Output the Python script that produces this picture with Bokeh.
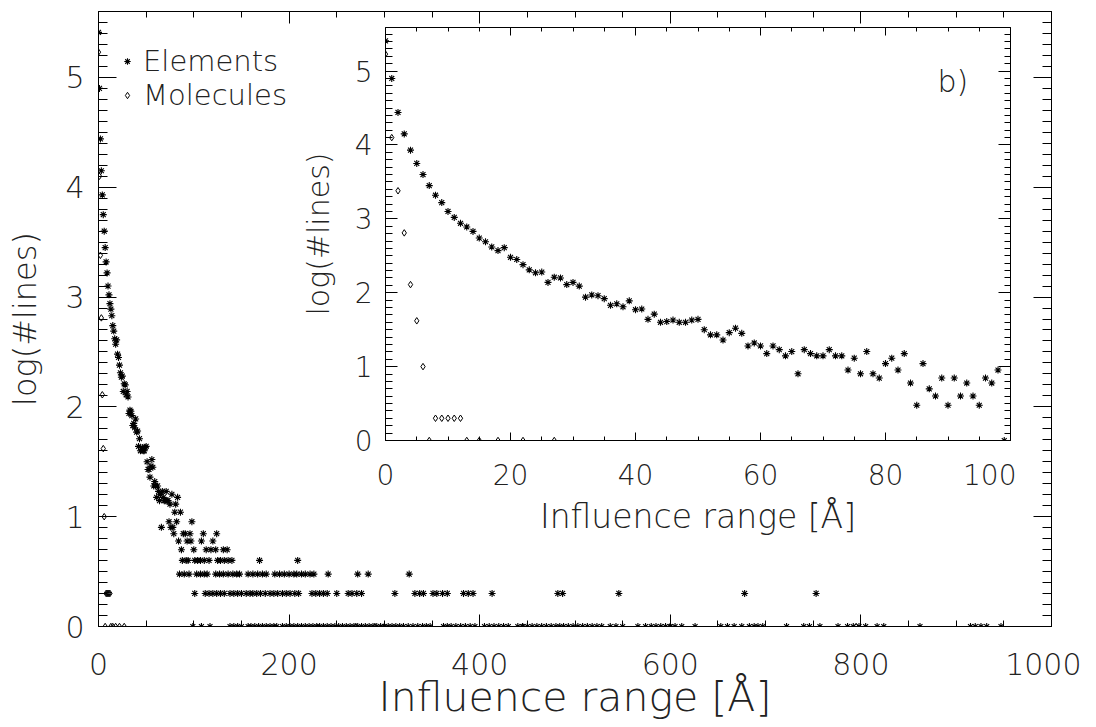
import numpy as np
from bokeh.plotting import figure
from bokeh.models import (Range1d, LinearAxis, SingleIntervalTicker, Legend, LegendItem,
                          Label, CustomJSTickFormatter)
from bokeh.layouts import column
from bokeh.embed import file_html
from bokeh.resources import INLINE

FONT = "DejaVu Sans Light, Lato Light, DejaVu Sans"
TXT = "#222222"

# ---------------- data ----------------
# Elements: log(#lines) per 1 A bin, 0..99 A
el_x_near = list(range(100))
el_y_near = [5.41, 4.90, 4.44, 4.15, 3.93, 3.75, 3.60, 3.45, 3.32, 3.22,
             3.10, 3.02, 2.94, 2.89, 2.83, 2.74, 2.69, 2.62, 2.57, 2.61,
             2.48, 2.45, 2.38, 2.31, 2.27, 2.28, 2.14, 2.21, 2.20, 2.11,
             2.14, 2.09, 1.94, 1.97, 1.96, 1.92, 1.83, 1.85, 1.81, 1.89,
             1.77, 1.78, 1.64, 1.71, 1.60, 1.61, 1.63, 1.60, 1.60, 1.63,
             1.64, 1.50, 1.43, 1.43, 1.36, 1.46, 1.52, 1.45, 1.28, 1.32,
             1.28, 1.176, 1.28, 1.230, 1.146, 1.204, 0.903, 1.230, 1.176, 1.146,
             1.146, 1.230, 1.146, 1.146, 0.954, 1.114, 0.903, 1.204, 0.903, 0.845,
             1.041, 1.114, 0.954, 1.176, 0.778, 0.477, 1.041, 0.699, 0.602, 0.845,
             0.477, 0.845, 0.602, 0.778, 0.602, 0.477, 0.845, 0.778, 0.954, 0.0]

# Elements beyond 100 A, grouped by log(#lines) level
far_levels = [0.845, 0.778, 0.699, 0.602, 0.477, 0.301, 0.0]
far_x = [
    [110, 124],
    [108, 120],
    [100, 113, 118, 123, 131, 135],
    [101, 104, 107, 111, 116, 125, 128, 132, 136, 140, 169, 209],
    [103, 107, 111, 114, 123, 127, 131, 136, 141, 145, 148, 157, 162, 167, 172,
     176, 185, 190, 195, 200, 205, 208, 213, 217, 222, 226, 241, 272, 283, 326],
    [101, 112, 116, 120, 124, 128, 132, 138, 142, 146, 150, 155, 159, 162, 166,
     170, 175, 180, 184, 188, 193, 197, 201, 206, 210, 224, 228, 232, 236, 240,
     250, 262, 266, 271, 276, 311, 332, 337, 341, 351, 355, 361, 366, 383, 388,
     393, 413, 482, 487, 546, 678, 753],
    [108, 117, 138, 142, 146, 150, 157, 160, 164, 168, 172, 176, 180, 184, 187,
     193, 197, 201, 205, 209, 213, 217, 221, 225, 229, 232, 236, 240, 244, 248,
     252, 256, 260, 264, 268, 272, 276, 280, 284, 288, 292, 296, 300, 304, 308,
     312, 316, 320, 325, 330, 335, 340, 344, 348, 362, 366, 370, 375, 380, 385,
     390, 395, 405, 410, 415, 420, 425, 430, 440, 445, 450, 455, 460, 465, 470,
     475, 480, 484, 488, 493, 498, 503, 508, 513, 518, 523, 528, 537, 543, 550,
     566, 574, 580, 585, 590, 595, 600, 605, 612, 626, 653, 660, 667, 675, 683,
     688, 692, 697, 722, 740, 746, 757, 776, 786, 792, 798, 805, 817, 824, 862,
     915, 920, 926, 932, 947],
]

# Molecules
mol_x = [0, 1, 2, 3, 4, 5, 6, 7, 8, 9, 10, 11, 12, 13, 15, 18, 22, 27]
mol_y = [5.23, 4.10, 3.38, 2.81, 2.11, 1.62, 1.00, 0.0, 0.301, 0.301, 0.301,
         0.301, 0.301, 0.0, 0.0, 0.0, 0.0, 0.0]
mol_far_x = [270, 290, 300, 445, 600, 795]
mol_far_y = [0.0, 0.0, 0.0, 0.0, 0.0, 0.0]

legend_labels = ["Elements", "Molecules"]

# full element set for main panel
el_x_all = list(el_x_near)
el_y_all = list(el_y_near)
for lvl, xs in zip(far_levels, far_x):
    el_x_all += xs
    el_y_all += [lvl] * len(xs)
mol_x_all = mol_x + mol_far_x
mol_y_all = mol_y + mol_far_y

BLANK = CustomJSTickFormatter(code="return ''")


def style_axis(ax, major_in, minor_in, size=None, standoff=10):
    ax.axis_line_color = "black"
    ax.axis_line_width = 1
    ax.major_tick_in = major_in
    ax.major_tick_out = 0
    ax.minor_tick_in = minor_in
    ax.minor_tick_out = 0
    ax.major_tick_line_color = "black"
    ax.minor_tick_line_color = "black"
    ax.major_label_text_font = FONT
    ax.major_label_text_color = TXT
    ax.axis_label_text_font = FONT
    ax.axis_label_text_font_style = "normal"
    ax.axis_label_text_color = TXT
    if size is not None:
        ax.major_label_text_font_size = size
        ax.major_label_standoff = standoff
    else:
        ax.formatter = BLANK
        ax.major_label_text_font_size = "1px"
        ax.major_label_standoff = 0
        ax.axis_label = None


def add_frame_axes(fig, xt, yt, xmaj, xmin, ymaj, ymin):
    top = LinearAxis(ticker=SingleIntervalTicker(interval=xt[0], num_minor_ticks=xt[1]))
    right = LinearAxis(ticker=SingleIntervalTicker(interval=yt[0], num_minor_ticks=yt[1]))
    style_axis(top, xmaj, xmin)
    style_axis(right, ymaj, ymin)
    fig.add_layout(top, "above")
    fig.add_layout(right, "right")


# ---------------- main panel ----------------
p = figure(frame_width=953, frame_height=615, output_backend="svg", toolbar_location=None,
           x_range=Range1d(0, 1000), y_range=Range1d(0, 5.6),
           min_border_left=91, min_border_right=30, min_border_top=5,
           min_border_bottom=88)
p.margin = (6, 0, 0, 3)
p.grid.visible = False
p.outline_line_color = None
p.xaxis.ticker = SingleIntervalTicker(interval=200, num_minor_ticks=4)
p.yaxis.ticker = SingleIntervalTicker(interval=1, num_minor_ticks=10)
style_axis(p.xaxis[0], 12, 6, "30px", standoff=26)
style_axis(p.yaxis[0], 18, 9, "30px", standoff=14)
p.xaxis.axis_label = "Influence range [Å]"
p.yaxis.axis_label = "log(#lines)"
p.xaxis.axis_label_text_font_size = "41px"
p.yaxis.axis_label_text_font_size = "32px"
p.xaxis.axis_label_standoff = -5
p.yaxis.axis_label_standoff = 18
add_frame_axes(p, (200, 4), (1, 10), 12, 6, 18, 9)

r_el = p.scatter(el_x_all, el_y_all, marker="asterisk", size=7, line_color="black",
                 line_width=1.1)
r_mol = p.scatter(mol_x_all, mol_y_all, marker="diamond", size=6.5,
                  fill_color=None, line_color="black", line_width=1)

legend = Legend(items=[LegendItem(label=legend_labels[0], renderers=[r_el]),
                       LegendItem(label=legend_labels[1], renderers=[r_mol])],
                location=(21, 514), padding=0, margin=0, spacing=0,
                glyph_width=16, glyph_height=16, label_standoff=8,
                label_text_font=FONT, label_text_font_size="29px",
                label_text_color=TXT,
                border_line_color=None, background_fill_alpha=0)
p.add_layout(legend)

# ---------------- inset panel ----------------
q = figure(frame_width=625, frame_height=413, output_backend="svg", toolbar_location=None,
           x_range=Range1d(0, 100), y_range=Range1d(0, 5.59),
           min_border_left=93, min_border_right=8, min_border_top=7,
           min_border_bottom=100, background_fill_color=None, border_fill_color=None)
q.styles = {"position": "absolute", "left": "290px", "top": "20px", "z-index": "2"}
q.grid.visible = False
q.outline_line_color = None
q.xaxis.ticker = SingleIntervalTicker(interval=20, num_minor_ticks=4)
q.yaxis.ticker = SingleIntervalTicker(interval=1, num_minor_ticks=10)
style_axis(q.xaxis[0], 8, 4, "28px", standoff=23)
style_axis(q.yaxis[0], 12, 7, "28px", standoff=13)
q.xaxis.axis_label = "Influence range [Å]"
q.yaxis.axis_label = "log(#lines)"
q.xaxis.axis_label_text_font_size = "33px"
q.yaxis.axis_label_text_font_size = "30px"
q.xaxis.axis_label_standoff = 9
q.yaxis.axis_label_standoff = 16
add_frame_axes(q, (20, 4), (1, 10), 8, 4, 12, 6)

q.scatter(el_x_near, el_y_near, marker="asterisk", size=7, line_color="black", line_width=1.1)
q.scatter(mol_x, mol_y, marker="diamond", size=6.5,
          fill_color=None, line_color="black", line_width=1)
q.add_layout(Label(x=88.3, y=4.86, text="b)", text_baseline="middle",
                   text_font=FONT, text_font_size="30px", text_color=TXT))

layout = column(p, q)
layout.styles = {"position": "relative"}

open("out.html", "w").write(file_html(layout, INLINE))
